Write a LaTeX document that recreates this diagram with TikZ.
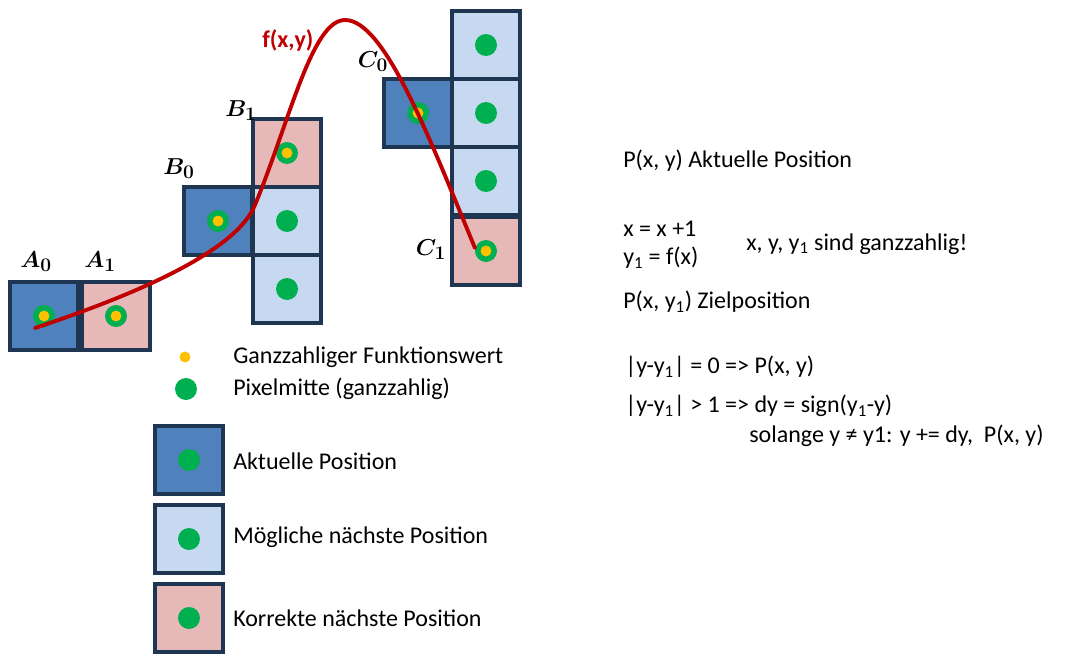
\documentclass[tikz,border=0pt]{standalone}
\usepackage{amsmath}
\usepackage{fontspec}
\setmainfont{Carlito}
\usepackage{tikz}
\usetikzlibrary{positioning}
\definecolor{frame}{RGB}{31,54,82}
\definecolor{curcol}{RGB}{79,129,189}
\definecolor{nextcol}{RGB}{198,217,241}
\definecolor{goodcol}{RGB}{230,185,184}
\definecolor{dotgreen}{RGB}{0,176,80}
\definecolor{dotyellow}{RGB}{255,192,0}
\definecolor{fcol}{RGB}{192,0,0}
\tikzset{
    pixel/.style={draw=frame, line width=2.4pt, minimum size=51pt, inner sep=0pt, outer sep=0pt},
    current/.style={pixel, fill=curcol},
    possible/.style={pixel, fill=nextcol},
    correct/.style={pixel, fill=goodcol},
    pixmid/.style={circle, fill=dotgreen, minimum size=16.5pt, inner sep=0pt},
    funcval/.style={circle, fill=dotyellow, minimum size=8.2pt, inner sep=0pt},
    lbl/.style={font=\fontsize{19}{22}\selectfont\boldmath},
    txt/.style={anchor=west, inner sep=0pt, font=\fontsize{18}{22}\selectfont},
    curve/.style={draw=fcol, line width=2.9pt, line cap=round},
}

\begin{document}
\begin{tikzpicture}[x=0.75pt, y=-0.75pt]
	\useasboundingbox (0,0) rectangle (1076,671);
%
	\node[current] (a0) at (44,316) {};
	\node[correct] (a1) at (116,316) {};
%
	\node[current] (b0) at (218,221) {};
	\node[correct] (b1) at (287,153) {};
	\node[possible] (b2) at (287,221) {};
	\node[possible] (b3) at (287,289) {};
%
	\node[current] (c0) at (418,113) {};
	\node[possible] (c2) at (486,45) {};
	\node[possible] (c3) at (486,113) {};
	\node[possible] (c4) at (486,181) {};
	\node[correct] (c1) at (486,251) {};
%
	\node[pixmid] at (a0) {};  \node[funcval] at (a0) {};
	\node[pixmid] at (a1) {};  \node[funcval] at (a1) {};
	\node[pixmid] at (b0) {};  \node[funcval] at (b0) {};
	\node[pixmid] at (b1) {};  \node[funcval] at (b1) {};
	\node[pixmid] at (b2) {};
	\node[pixmid] at (b3) {};
	\node[pixmid] at (c0) {};  \node[funcval] at (c0) {};
	\node[pixmid] at (c2) {};
	\node[pixmid] at (c3) {};
	\node[pixmid] at (c4) {};
	\node[pixmid] at (c1) {};  \node[funcval] at (c1) {};
%
	\node[lbl] (la0) at (36,262) {$A_0$};
	\node[lbl] (la1) at (100,262) {$A_1$};
	\node[lbl] (lb0) at (179,169) {$B_0$};
	\node[lbl] (lb1) at (241,111) {$B_1$};
	\node[lbl] (lc0) at (373,62) {$C_0$};
	\node[lbl] (lc1) at (431,250) {$C_1$};
%
	\coordinate (start) at (35,328);
	\coordinate (mid) at (255,205);
	\coordinate (top) at (345,20);
	\coordinate (stop) at (475,248);
	\draw[curve] (start) .. controls (125,298) and (235,254) .. (mid)
		.. controls (290,120) and (312,20) .. (top)
		.. controls (385,20) and (430,140) .. (stop);
	\node[txt, text=fcol, font=\fontsize{18}{22}\selectfont\bfseries] (fxy) at (262,40) {f(x,y)};
%
	% legend
	\node[funcval] (lgy) at (185,357) {};
	\node[pixmid] (lgg) at (186,389) {};
	\node[txt] (tgy) at (233,357) {Ganzzahliger Funktionswert};
	\node[txt] (tgg) at (233,389) {Pixelmitte (ganzzahlig)};
	\node[current] (lg1) at (189,460) {};
	\node[possible] (lg2) at (189,539) {};
	\node[correct] (lg3) at (189,618) {};
	\node[pixmid] at (lg1) {};
	\node[pixmid] at (lg2) {};
	\node[pixmid] at (lg3) {};
	\node[txt] (t1) at (233,461) {Aktuelle Position};
	\node[txt] (t2) at (233,537) {Mögliche nächste Position};
	\node[txt] (t3) at (233,618) {Korrekte nächste Position};
%
	% rules
	\node[txt] (r1) at (623,161) {P(x, y) Aktuelle Position};
	\node[txt] (r2) at (623,229) {x = x +1};
	\node[txt] (r3) at (623,258) {y\textsubscript{1} = f(x)};
	\node[txt] (r4) at (746,244) {x, y, y\textsubscript{1} sind ganzzahlig!};
	\node[txt] (r5) at (623,302) {P(x, y\textsubscript{1}) Zielposition};
	\node[txt] (r6) at (625,367) {|y-y\textsubscript{1}| = 0 => P(x, y)};
	\node[txt] (r7) at (625,406) {|y-y\textsubscript{1}| > 1 => dy = sign(y\textsubscript{1}-y)};
	\node[txt] (r8) at (749,436) {solange y ≠ y1: y += dy,~ P(x, y)};
 \end{tikzpicture}
\end{document}
